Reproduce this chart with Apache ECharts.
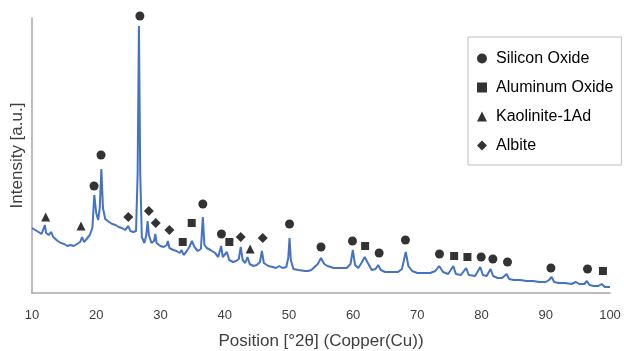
<!DOCTYPE html>
<html>
<head>
<meta charset="utf-8">
<script src="https://cdn.jsdelivr.net/npm/echarts@6/dist/echarts.min.js"></script>
<style>
  html, body { margin: 0; padding: 0; background: #fff; }
  #chart { width: 624px; height: 351px; }
</style>
</head>
<body>
<div id="chart"></div>
<script>
// XRD pattern: [2theta, intensity (a.u.)]
const pattern = [
  [10.0, 65], [10.5, 63], [11.0, 61], [11.5, 59], [11.8, 60], [12.0, 68], [12.2, 60], [12.6, 58],
  [13.0, 61], [13.3, 56], [14.0, 52], [14.5, 50], [15.0, 49], [15.5, 47], [16.0, 48], [16.5, 47],
  [17.0, 49], [17.5, 51], [17.8, 56], [18.1, 51], [18.5, 54], [19.0, 58], [19.4, 65], [19.7, 98],
  [20.0, 80], [20.3, 73], [20.55, 85], [20.8, 124], [21.05, 85], [21.4, 74], [22.0, 71], [22.5, 69],
  [23.0, 68], [23.5, 66], [24.0, 65], [24.5, 63], [25.0, 67], [25.3, 62], [25.8, 61], [26.2, 62],
  [26.45, 120], [26.65, 267], [26.85, 120], [27.1, 56], [27.5, 50], [27.8, 58], [28.0, 72], [28.2, 58],
  [28.6, 50], [29.0, 52], [29.2, 59], [29.4, 50], [30.0, 47], [30.5, 46], [31.0, 48], [31.15, 52],
  [31.4, 45], [32.0, 43], [32.5, 42], [33.0, 40], [33.3, 43], [33.6, 38], [34.0, 41], [34.5, 46],
  [34.9, 52], [35.3, 46], [35.8, 42], [36.3, 44], [36.6, 76], [36.85, 48], [37.2, 45], [37.8, 43],
  [38.5, 40], [39.0, 36], [39.2, 38], [39.45, 47], [39.7, 36], [40.0, 35], [40.35, 41], [40.7, 33],
  [41.3, 31], [41.8, 32], [42.2, 34], [42.5, 46], [42.8, 33], [43.2, 30], [43.55, 36], [43.9, 29],
  [44.5, 27], [45.0, 28], [45.5, 31], [45.8, 42], [46.1, 30], [46.8, 27], [47.5, 26], [48.0, 25],
  [48.5, 27], [49.0, 25], [49.6, 26], [49.9, 35], [50.1, 55], [50.3, 33], [50.7, 24], [51.5, 23],
  [52.5, 22], [53.0, 22], [53.5, 23], [54.0, 26], [54.5, 29], [55.0, 35], [55.5, 29], [56.0, 27],
  [57.0, 25], [58.0, 25], [59.0, 25], [59.6, 29], [59.95, 43], [60.3, 28], [60.8, 25], [61.3, 30],
  [61.8, 36], [62.3, 30], [62.9, 23], [63.5, 24], [63.9, 28], [64.3, 23], [65.0, 21], [66.0, 21],
  [67.0, 21], [67.6, 24], [68.2, 41], [68.6, 27], [69.2, 22], [70.0, 20], [71.0, 20], [72.0, 20],
  [72.8, 22], [73.4, 27], [74.0, 21], [74.8, 19], [75.6, 27], [76.0, 19], [76.8, 18], [77.6, 25],
  [78.0, 18], [79.0, 17], [79.8, 26], [80.2, 18], [80.8, 17], [81.4, 24], [81.8, 17], [82.5, 15],
  [83.2, 15], [83.9, 19], [84.3, 14], [85.0, 13], [86.0, 13], [87.0, 12], [88.0, 12], [89.0, 11],
  [90.0, 11], [90.5, 13], [90.9, 16], [91.3, 11], [92.0, 10], [93.0, 10], [94.0, 9], [94.7, 11],
  [95.2, 9], [96.0, 9], [96.4, 12], [96.8, 8], [97.5, 7], [98.2, 7], [98.7, 9], [99.2, 6], [100.0, 6]
]

// phase markers above the peaks
const siliconOxide = [
  [19.66, 107], [20.75, 138], [26.8, 277], [36.6, 89], [39.5, 59], [50.1, 69], [55.0, 46], [59.9, 52],
  [64.05, 40], [68.15, 53], [73.45, 39], [79.94, 36], [81.76, 34], [84.04, 31], [90.8, 25], [96.5, 24]
]
const aluminumOxide = [[33.47, 51], [34.87, 70], [40.73, 51], [61.87, 47], [75.73, 37], [77.8, 36], [98.9, 22]]
const kaolinite = [[12.13, 76], [17.63, 67], [43.96, 44]]
const albite = [[25.0, 76], [28.2, 82], [29.27, 70], [31.39, 63], [42.5, 56], [45.93, 55]]

const xTicks = { min: 10, max: 100, interval: 10 }

const chart = echarts.init(document.getElementById('chart'))
const font = 'Liberation Sans, Arial, sans-serif'

const marker = (name, symbol, size, data) => ({
  type: 'scatter', name, symbol, symbolSize: size, data, clip: false,
  itemStyle: { color: '#000' }, z: 3, silent: true,
})

chart.setOption({
  animation: false,
  textStyle: { fontFamily: font },
  grid: { left: 32, right: 14, top: 18, bottom: 58, outerBoundsMode: 'none' },
  legend: {
    orient: 'vertical', left: 468, top: 37,
    padding: [12, 8, 10, 9], itemGap: 10, itemWidth: 10, itemHeight: 10,
    borderColor: '#BFBFBF', borderWidth: 1, backgroundColor: '#fff',
    textStyle: { fontSize: 16, color: '#000', padding: [0, 0, 0, 4], lineHeight: 19 },
    data: ['Silicon Oxide', 'Aluminum Oxide', 'Kaolinite-1Ad', 'Albite'],
  },
  xAxis: {
    type: 'value', ...xTicks,
    name: 'Position [°2θ] (Copper(Cu))', nameLocation: 'middle', nameGap: 40,
    nameTextStyle: { fontSize: 17, color: '#404040' },
    axisLine: { lineStyle: { color: '#A6A6A6', width: 1.5 } },
    axisTick: { show: false },
    axisLabel: { fontSize: 13, color: '#404040', margin: 16 },
    splitLine: { show: false },
  },
  yAxis: {
    type: 'value', min: 0, max: 275,
    name: 'Intensity [a.u.]', nameLocation: 'middle', nameGap: 6,
    nameTextStyle: { fontSize: 17, color: '#404040' },
    axisLine: { show: true, lineStyle: { color: '#A6A6A6', width: 1.5 } },
    axisTick: { show: false },
    axisLabel: { show: false },
    splitLine: { show: false },
  },
  series: [
    {
      type: 'line', name: 'pattern', data: pattern, showSymbol: false,
      lineStyle: { color: '#4472C4', width: 2 }, itemStyle: { color: '#4472C4' }, silent: true,
    },
    marker('Silicon Oxide', 'circle', 9, siliconOxide),
    marker('Aluminum Oxide', 'rect', 8, aluminumOxide),
    marker('Kaolinite-1Ad', 'triangle', 9, kaolinite),
    marker('Albite', 'diamond', 10, albite),
  ],
})
</script>
</body>
</html>
